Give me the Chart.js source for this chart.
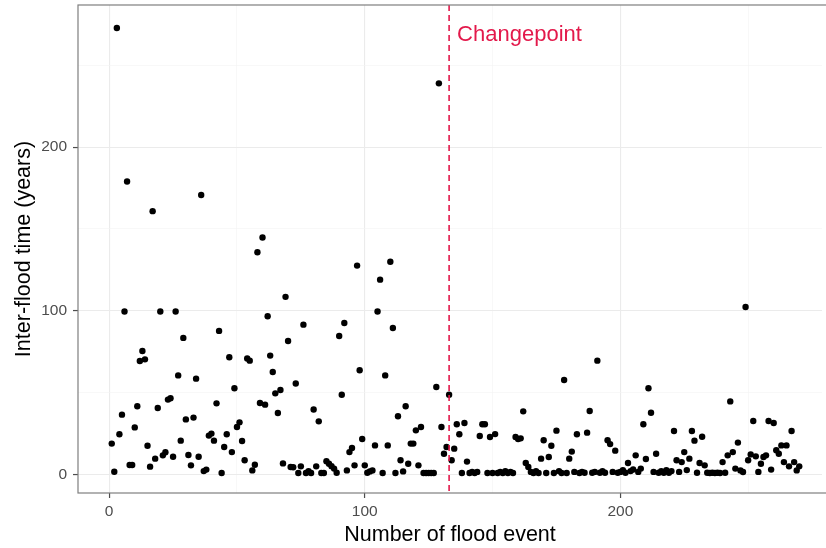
<!DOCTYPE html>
<html>
<head>
<meta charset="utf-8">
<title>Inter-flood time</title>
<script src="https://cdn.jsdelivr.net/npm/chart.js@4.4.0/dist/chart.umd.min.js"></script>
<style>
    html, body { margin: 0; padding: 0; background: #fff; }
    #wrap { width: 826px; height: 548px; }
</style>
</head>
<body>
<div id="wrap"><canvas id="j_flood" width="826" height="548"></canvas></div>
<script>
// inter-flood time (years) for flood events 1..270
var interFloodYears = [
    18.8, 1.6, 272.8, 24.5, 36.5, 99.5, 179, 5.7, 5.7, 28.7,
    41.6, 69.3, 75.4, 70.3, 17.5, 4.7, 160.9, 9.6, 40.6, 99.5,
    11.6, 13.5, 45.7, 46.5, 10.8, 99.5, 60.5, 20.6, 83.4, 33.6,
    11.8, 5.5, 34.7, 58.5, 10.8, 170.8, 2, 2.9, 23.7, 24.9,
    20.6, 43.4, 87.7, 0.8, 16.7, 24.5, 71.6, 13.6, 52.6, 28.9,
    31.8, 20.4, 8.6, 70.8, 69.5, 2.4, 5.9, 135.8, 43.6, 144.8,
    42.6, 96.6, 72.6, 62.6, 49.5, 37.5, 51.6, 6.7, 108.5, 81.5,
    4.5, 4.3, 55.5, 0.8, 4.9, 91.5, 0.8, 2, 0.8, 39.6,
    4.9, 32.4, 0.8, 0.8, 8, 6.5, 5, 3.5, 1, 84.6,
    48.7, 92.5, 2.4, 13.6, 16.1, 5.5, 127.6, 63.6, 21.6, 5.5,
    1, 1.8, 2.4, 17.7, 99.5, 119, 0.8, 60.5, 17.7, 130,
    89.5, 0.8, 35.5, 8.6, 1.8, 41.6, 6.5, 18.8, 18.8, 26.9,
    5.5, 28.9, 0.8, 0.8, 0.8, 0.8, 0.8, 53.4, 239, 28.9,
    12.6, 16.7, 48.7, 8.6, 15.7, 30.6, 24.5, 0.8, 31.4, 7.8,
    0.8, 1.5, 0.8, 1.5, 23.4, 30.6, 30.6, 0.8, 22.8, 0.8,
    24.6, 0.8, 1.5, 0.8, 2, 0.8, 1.5, 0.8, 22.8, 21.6,
    22, 38.5, 6.9, 4.5, 1.5, 0.8, 2, 0.8, 9.6, 20.8,
    0.8, 10.6, 17.5, 0.8, 26.7, 2, 0.8, 57.7, 0.8, 9.6,
    13.9, 1.5, 24.5, 0.8, 1.5, 1, 25.5, 38.7, 1, 1.5,
    69.5, 1, 2, 1, 20.8, 18.5, 1.5, 14.5, 1, 1.5,
    2.5, 1, 6.9, 2, 3, 11.6, 1.5, 3.5, 30.6, 9.4,
    52.6, 37.7, 1.5, 12.6, 1, 2, 1, 2.5, 1, 2,
    26.5, 8.6, 1.5, 7.5, 13.6, 2.6, 9.6, 26.5, 20.6, 1,
    6.9, 23, 5.5, 1, 0.8, 1, 0.8, 1, 0.8, 7.5,
    1, 11.6, 44.6, 13.6, 3.5, 19.4, 2.4, 1.4, 102.3, 8.6,
    12.2, 32.6, 11, 1.5, 6.5, 10.6, 11.6, 32.6, 2.9, 31.4,
    14.7, 12.6, 17.7, 7.5, 17.7, 4.9, 26.5, 7.5, 2.4, 4.9
];
var xTicks = [0, 100, 200];
var yTicks = [0, 100, 200];
var minorBreaks = [50, 150, 250];
var changepointEvent = 133;
var changepointLabel = "Changepoint";

var changeColor = "#E3194B";
var fontFamily = '"Liberation Sans", Arial, Helvetica, sans-serif';

// event number is the position in the series (first flood = 1)
var points = interFloodYears.map(function (v, i) {
    return { x: i + 1, y: v };
});

function isMajor(v, majors) {
    return majors.indexOf(v) !== -1;
}

function gridTicks(majors) {
    return majors.concat(minorBreaks).sort(function (a, b) { return a - b; })
        .map(function (v) { return { value: v }; });
}

// keep the panel exactly where the original has it, no label overhang padding
function noPadding(s) {
    s.paddingTop = 0;
    s.paddingBottom = 0;
    s.paddingLeft = 0;
    s.paddingRight = 0;
}

var panelPlugin = {
    id: "panel",
    afterDatasetsDraw: function (chart) {
        var ctx = chart.ctx;
        var a = chart.chartArea;
        var xPx = chart.scales.x.getPixelForValue(changepointEvent);

        ctx.save();
        ctx.strokeStyle = changeColor;
        ctx.lineWidth = 1.6;
        ctx.setLineDash([6, 4]);
        ctx.beginPath();
        ctx.moveTo(xPx, a.top);
        ctx.lineTo(xPx, a.bottom);
        ctx.stroke();
        ctx.setLineDash([]);

        ctx.fillStyle = changeColor;
        ctx.font = "22px " + fontFamily;
        ctx.textAlign = "left";
        ctx.textBaseline = "alphabetic";
        ctx.fillText(changepointLabel, xPx + 8, a.top + 36);

        // panel border, right side runs off the picture like the original
        ctx.strokeStyle = "#7f7f7f";
        ctx.lineWidth = 1.2;
        ctx.strokeRect(a.left, a.top, a.right - a.left + 20, a.bottom - a.top);
        ctx.restore();
    }
};

function gridColor(majors) {
    return function (c) {
        return isMajor(c.tick.value, majors) ? "#EBEBEB" : "#F4F4F4";
    };
}
function gridWidth(majors) {
    return function (c) {
        return isMajor(c.tick.value, majors) ? 1.1 : 0.6;
    };
}
function tickColor(majors) {
    return function (c) {
        return isMajor(c.tick.value, majors) ? "#4D4D4D" : "rgba(0,0,0,0)";
    };
}

Chart.defaults.font.family = fontFamily;

new Chart(document.getElementById("j_flood"), {
    type: "scatter",
    data: {
        datasets: [
            {
                label: "Inter-flood time",
                data: points,
                backgroundColor: "#000",
                borderWidth: 0,
                pointRadius: 3.2,
            },
        ],
    },
    options: {
        responsive: false,
        animation: false,
        devicePixelRatio: 1,
        layout: { padding: { top: 5, left: 0, right: 0, bottom: 0 } },
        plugins: {
            legend: { display: false },
            tooltip: { enabled: false },
        },
        scales: {
            x: {
                type: "linear",
                min: -12.2,
                max: 278.9,
                afterBuildTicks: function (s) { s.ticks = gridTicks(xTicks); },
                afterFit: function (s) { s.height = 55; noPadding(s); },
                border: { display: false },
                grid: {
                    color: gridColor(xTicks),
                    lineWidth: gridWidth(xTicks),
                    drawTicks: true,
                    tickLength: 5,
                    tickColor: tickColor(xTicks),
                    tickWidth: 1.2,
                },
                ticks: {
                    autoSkip: false,
                    maxRotation: 0,
                    padding: 4,
                    color: "#4D4D4D",
                    font: { size: 15.5 },
                    callback: function (value) {
                        return isMajor(value, xTicks) ? value : "";
                    },
                },
                title: {
                    display: true,
                    text: "Number of flood event",
                    color: "#000",
                    font: { size: 21.5 },
                    padding: { top: 0, bottom: 0 },
                },
            },
            y: {
                type: "linear",
                min: -11.4,
                max: 286.9,
                afterBuildTicks: function (s) { s.ticks = gridTicks(yTicks); },
                afterFit: function (s) { s.width = 78; noPadding(s); },
                border: { display: false },
                grid: {
                    color: gridColor(yTicks),
                    lineWidth: gridWidth(yTicks),
                    drawTicks: true,
                    tickLength: 5,
                    tickColor: tickColor(yTicks),
                    tickWidth: 1.2,
                },
                ticks: {
                    autoSkip: false,
                    padding: 6,
                    color: "#4D4D4D",
                    font: { size: 15.5 },
                    callback: function (value) {
                        return isMajor(value, yTicks) ? value : "";
                    },
                },
                title: {
                    display: true,
                    text: "Inter-flood time (years)",
                    color: "#000",
                    font: { size: 21.5 },
                    padding: { top: 11, bottom: 0 },
                },
            },
        },
    },
    plugins: [panelPlugin],
});
</script>
</body>
</html>
